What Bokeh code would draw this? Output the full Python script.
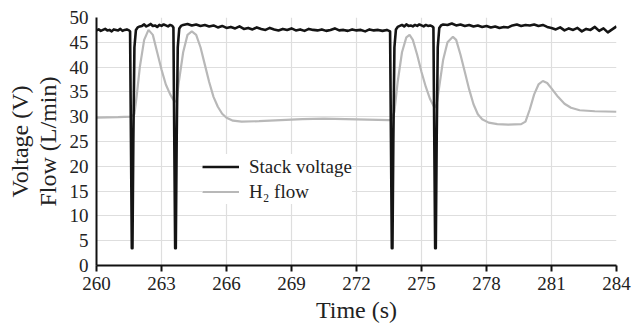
from bokeh.plotting import figure
from bokeh.models import Range1d, FixedTicker, Legend, LegendItem
from bokeh.embed import file_html
from bokeh.resources import INLINE

# ---- data ----
volt_t = [260.0, 260.1, 260.2, 260.3, 260.4, 260.5, 260.6, 260.7, 260.8, 260.9, 261.0, 261.1, 261.2, 261.3, 261.4, 261.5,
          261.55, 261.6, 261.63, 261.66, 261.7, 261.75, 261.82, 261.9, 262.0,
          262.1, 262.2, 262.3, 262.4, 262.5, 262.6, 262.7, 262.8, 262.9, 263.0, 263.1, 263.2, 263.3, 263.4, 263.5,
          263.55, 263.6, 263.63, 263.66, 263.7, 263.75, 263.82, 263.9, 264.0,
          264.2, 264.4, 264.6, 264.8, 265.0, 265.2, 265.4, 265.6, 265.8, 266.0, 266.2, 266.4, 266.6, 266.8, 267.0,
          267.2, 267.4, 267.6, 267.8, 268.0, 268.2, 268.4, 268.6, 268.8, 269.0, 269.2, 269.4, 269.6, 269.8, 270.0,
          270.2, 270.4, 270.6, 270.8, 271.0, 271.2, 271.4, 271.6, 271.8, 272.0, 272.2, 272.4, 272.6, 272.8, 273.0,
          273.2, 273.4, 273.55,
          273.6, 273.63, 273.66, 273.7, 273.75, 273.82, 273.9, 274.0,
          274.1, 274.2, 274.3, 274.4, 274.5, 274.6, 274.7, 274.8, 274.9, 275.0, 275.1, 275.2, 275.3, 275.4, 275.5,
          275.55, 275.6, 275.63, 275.66, 275.7, 275.75, 275.82, 275.9, 276.0,
          276.2, 276.4, 276.6, 276.8, 277.0, 277.2, 277.4, 277.6, 277.8, 278.0, 278.2, 278.4, 278.6, 278.8, 279.0,
          279.2, 279.4, 279.6, 279.8, 280.0, 280.2, 280.4, 280.6, 280.8, 281.0, 281.2, 281.4, 281.6, 281.8, 282.0,
          282.2, 282.4, 282.6, 282.8, 283.0, 283.2, 283.4, 283.6, 283.8, 284.0]
volt_v = [47.4, 47.6, 47.3, 47.5, 47.7, 47.4, 47.5, 47.2, 47.6, 47.5, 47.4, 47.7, 47.3, 47.5, 47.6, 47.4,
          47.2, 20.0, 3.5, 3.5, 25.0, 44.0, 47.5, 48.0, 48.2,
          48.3, 48.6, 48.2, 48.4, 48.7, 48.3, 48.4, 48.1, 48.5, 48.3, 48.6, 48.4, 48.2, 48.5, 48.3,
          48.0, 20.0, 3.5, 3.5, 25.0, 44.0, 47.8, 48.3, 48.5,
          48.7, 48.4, 48.6, 48.3, 48.5, 48.2, 48.4, 48.0, 48.3, 47.9, 48.1, 47.8, 48.2, 47.7, 47.9,
          47.6, 48.0, 47.7, 47.5, 47.9, 47.6, 47.4, 47.7, 47.5, 47.8, 47.4, 47.6, 47.3, 47.7, 47.5,
          47.4, 47.6, 47.3, 47.5, 47.8, 47.4, 47.5, 47.3, 47.6, 47.4, 47.5, 47.2, 47.6, 47.4, 47.5,
          47.3, 47.5, 47.2,
          20.0, 3.5, 3.5, 25.0, 44.0, 47.6, 48.1, 48.3,
          48.5, 48.2, 48.6, 48.3, 48.4, 48.2, 48.5, 48.3, 48.6, 48.4, 48.2, 48.5, 48.3, 48.4, 48.2,
          48.0, 20.0, 3.5, 3.5, 25.0, 44.0, 47.9, 48.4, 48.6,
          48.5, 48.8, 48.4, 48.6, 48.3, 48.5, 48.2, 48.4, 48.1, 48.3, 48.0, 48.2, 47.9, 48.1, 48.0,
          48.4, 48.6, 48.3, 48.5, 48.4, 48.6, 48.3, 48.5, 48.1, 47.9, 47.6, 48.0, 47.4, 47.8, 47.5,
          47.9, 47.2, 47.7, 47.5, 48.1, 47.3, 47.8, 47.0, 47.6, 48.2]

flow_t = [260.0, 261.0, 261.6, 261.75, 261.85, 262.0, 262.2, 262.4, 262.6, 262.8, 263.0, 263.2, 263.4, 263.6,
          263.7, 263.8, 264.0, 264.2, 264.4, 264.6, 264.8, 265.0, 265.2, 265.4, 265.6, 265.8, 266.0, 266.3,
          266.7, 267.5, 268.5, 269.5, 270.5, 271.5, 272.5, 273.5, 273.6, 273.75, 273.9, 274.1, 274.3, 274.45,
          274.6, 274.8, 275.0, 275.2, 275.4, 275.6, 275.7, 275.85, 276.0, 276.2, 276.45, 276.6, 276.8, 277.0,
          277.2, 277.4, 277.6, 277.8, 278.1, 278.5, 279.0, 279.6, 279.8, 280.0, 280.2, 280.4, 280.6, 280.8,
          281.0, 281.3, 281.6, 281.9, 282.3, 283.0, 284.0]
flow_v = [29.8, 29.9, 30.0, 30.5, 34.0, 40.0, 45.5, 47.5, 46.5, 43.0, 39.5, 36.5, 34.5, 33.0,
          33.2, 37.0, 43.0, 46.5, 47.2, 46.5, 44.0, 40.5, 37.0, 34.0, 32.0, 30.6, 29.8, 29.2,
          29.0, 29.1, 29.3, 29.5, 29.6, 29.5, 29.4, 29.3, 29.4, 31.0, 37.0, 43.0, 46.0, 46.5,
          45.5, 42.5, 39.0, 36.0, 33.5, 31.8, 32.5, 37.0, 41.5, 45.0, 46.1, 45.5, 42.5, 39.0,
          35.5, 32.5, 30.5, 29.5, 28.8, 28.5, 28.4, 28.5, 29.0, 31.5, 34.5, 36.5, 37.2, 36.8,
          35.7, 34.0, 32.6, 31.8, 31.3, 31.1, 31.0]

x_ticks = [260, 263, 266, 269, 272, 275, 278, 281, 284]
y_ticks = [0, 5, 10, 15, 20, 25, 30, 35, 40, 45, 50]

FONT = "Liberation Serif"

p = figure(frame_width=520, frame_height=248, output_backend="svg", toolbar_location=None,
           x_range=Range1d(260, 284), y_range=Range1d(0, 50),
           min_border_left=96, min_border_right=17, min_border_top=17, min_border_bottom=68)
p.outline_line_color = None
p.background_fill_color = "white"
p.border_fill_color = "white"

flow_r = p.line(flow_t, flow_v, line_color="#b8b8b8", line_width=2.2)
volt_r = p.line(volt_t, volt_v, line_color="#141414", line_width=2.6, line_join="round")

p.xaxis.ticker = FixedTicker(ticks=x_ticks)
p.yaxis.ticker = FixedTicker(ticks=y_ticks)
p.xgrid.ticker = FixedTicker(ticks=x_ticks)
p.ygrid.ticker = FixedTicker(ticks=y_ticks)
p.grid.grid_line_color = "#dedede"
p.grid.grid_line_width = 1.2

for ax in (p.xaxis[0], p.yaxis[0]):
    ax.axis_line_color = "#111111"
    ax.axis_line_width = 2
    ax.major_tick_in = 0
    ax.minor_tick_out = 0
    ax.minor_tick_in = 0
    ax.major_label_text_font = FONT
    ax.major_label_text_font_size = "19px"
    ax.major_label_text_color = "#222222"
    ax.axis_label_text_font = FONT
    ax.axis_label_text_font_size = "24px"
    ax.axis_label_text_font_style = "normal"
    ax.axis_label_text_color = "#222222"

p.xaxis.major_tick_out = 6
p.xaxis.major_tick_line_color = "#111111"
p.xaxis.major_tick_line_width = 2
p.yaxis.major_tick_out = 0
p.xaxis.axis_label = "Time (s)"
p.xaxis.major_label_standoff = 5
p.xaxis.axis_label_standoff = 4
p.yaxis.axis_label = "Voltage (V)\nFlow (L/min)"
p.yaxis.axis_label_text_line_height = 1.05
p.yaxis.major_label_standoff = 8
p.yaxis.axis_label_standoff = 6

legend = Legend(items=[LegendItem(label="Stack voltage", renderers=[volt_r]),
                       LegendItem(label="H\u2082 flow", renderers=[flow_r])],
                location=(106, 61))
legend.border_line_color = None
legend.background_fill_color = "white"
legend.background_fill_alpha = 1.0
legend.label_text_font = FONT
legend.label_text_font_size = "19px"
legend.label_text_color = "#222222"
legend.glyph_width = 37
legend.glyph_height = 25
legend.label_height = 25
legend.label_standoff = 10
legend.spacing = 0
legend.padding = 5
legend.margin = 0
p.add_layout(legend)

open("out.html", "w").write(file_html(p, INLINE))
